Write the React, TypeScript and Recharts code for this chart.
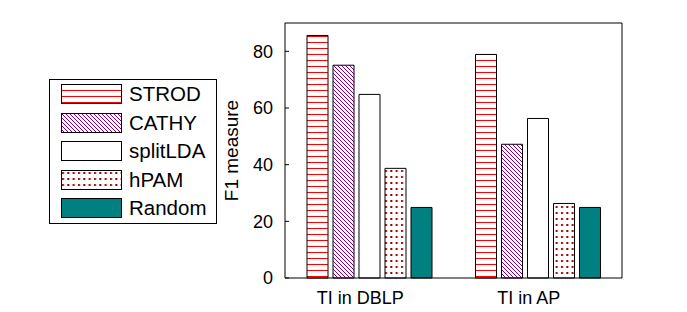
import { Bar, BarChart, Legend, XAxis, YAxis } from "recharts";

const categories = ["TI in DBLP", "TI in AP"];
const strod = [85.6, 78.9];
const cathy = [75.1, 47.2];
const splitLDA = [64.8, 56.3];
const hpam = [38.7, 26.3];
const random = [24.9, 24.9];
const yTicks = [0, 20, 40, 60, 80];

const SERIES = [
  { key: "STROD", fill: "url(#pStrod)" },
  { key: "CATHY", fill: "url(#pCathy)" },
  { key: "splitLDA", fill: "#ffffff" },
  { key: "hPAM", fill: "url(#pHpam)" },
  { key: "Random", fill: "#008080" },
];

const data = categories.map((name, i) => ({
  name,
  STROD: strod[i],
  CATHY: cathy[i],
  splitLDA: splitLDA[i],
  hPAM: hpam[i],
  Random: random[i],
}));

const FONT = "'Liberation Sans', Arial, sans-serif";
const TICK = { fontSize: 18, fill: "#000", fontFamily: FONT };

function LegendBox() {
  return (
    <div
      style={{
        boxSizing: "border-box",
        width: 168,
        height: 145,
        border: "1px solid #000",
        background: "#fff",
        paddingTop: 4,
        paddingLeft: 11,
        fontFamily: FONT,
        fontSize: 20.5,
        color: "#000",
      }}
    >
      {SERIES.map((s) => (
        <div key={s.key} style={{ display: "flex", alignItems: "center", height: 20, marginBottom: 8.5 }}>
          <svg width={61} height={20} style={{ display: "block" }}>
            <rect x={0.5} y={0.5} width={60} height={19} fill={s.fill} stroke="#000" />
          </svg>
          <span style={{ marginLeft: 7, lineHeight: "20px" }}>{s.key}</span>
        </div>
      ))}
    </div>
  );
}

export default function App() {
  return (
    <div style={{ position: "absolute", left: 0, top: 0, width: 687, height: 312, background: "#fff" }}>
      <BarChart
        width={687}
        height={312}
        data={data}
        margin={{ top: 22, right: 64, bottom: 0, left: 225 }}
        barSize={21}
        barGap={5}
      >
        <defs>
          <pattern id="pStrod" width={6} height={6} patternUnits="userSpaceOnUse">
            <rect width={6} height={6} fill="#fff" />
            <rect x={0} y={0} width={6} height={1} fill="#ff0000" />
          </pattern>
          <pattern id="pCathy" width={4} height={4} patternUnits="userSpaceOnUse">
            <rect width={4} height={4} fill="#fff" />
            <rect x={0} y={0} width={1} height={1} fill="#800080" />
            <rect x={1} y={1} width={1} height={1} fill="#800080" />
            <rect x={2} y={2} width={1} height={1} fill="#800080" />
            <rect x={3} y={3} width={1} height={1} fill="#800080" />
          </pattern>
          <pattern id="pHpam" width={16 / 3} height={6} patternUnits="userSpaceOnUse">
            <rect width={16 / 3} height={6} fill="#fff" />
            <rect x={1} y={2} width={2} height={2} fill="#990000" />
          </pattern>
        </defs>
        <XAxis
          dataKey="name"
          height={34}
          tick={{ ...TICK, dx: -9 }}
          tickLine={false}
          tickMargin={17}
          tickSize={-4}
          stroke="#000"
        />
        <XAxis
          xAxisId="top"
          orientation="top"
          dataKey="name"
          height={1}
          tick={false}
          tickSize={-4}
          stroke="#000"
        />
        <YAxis
          width={60}
          domain={[0, 90]}
          ticks={yTicks}
          tick={TICK}
          tickSize={-4}
          tickMargin={16}
          stroke="#000"
          label={{
            value: "F1 measure",
            angle: -90,
            position: "insideLeft",
            offset: 6,
            style: { textAnchor: "middle", fontSize: 19, fill: "#000", fontFamily: FONT },
          }}
        />
        <YAxis
          yAxisId="right"
          orientation="right"
          width={1}
          domain={[0, 90]}
          ticks={yTicks}
          tick={false}
          tickSize={-4}
          stroke="#000"
        />
        <Legend
          layout="vertical"
          align="center"
          verticalAlign="middle"
          content={() => <LegendBox />}
          wrapperStyle={{ left: 49, top: 79, width: 168, height: 145 }}
        />
        {SERIES.map((s) => (
          <Bar key={s.key} dataKey={s.key} fill={s.fill} stroke="#000" strokeWidth={1} isAnimationActive={false} />
        ))}
      </BarChart>
    </div>
  );
}
